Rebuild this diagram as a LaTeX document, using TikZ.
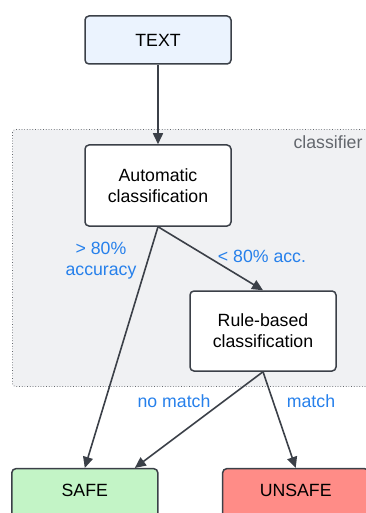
\documentclass[tikz,border=0pt]{standalone}
\usepackage{fontspec}
\setmainfont{Liberation Sans}
\usetikzlibrary{arrows.meta,calc}
\definecolor{edgegray}{HTML}{3B4048}
\definecolor{labelblue}{HTML}{2680EB}
\definecolor{groupfill}{HTML}{F0F1F3}
\definecolor{groupgray}{HTML}{63676D}
\definecolor{startfill}{HTML}{EBF3FE}
\definecolor{safefill}{HTML}{C3F4C6}
\definecolor{unsafefill}{HTML}{FF8C87}
\tikzset{
  box/.style={draw=edgegray, line width=1.5pt, rounded corners=4pt, fill=white,
    minimum width=146pt, inner sep=0pt, align=center, text=black,
    font=\fontsize{17.7}{21}\selectfont},
  flow/.style={draw=edgegray, line width=1.6pt, -{Triangle[length=11pt,width=10pt]}},
  tag/.style={text=labelblue, inner sep=0pt, align=center,
    font=\fontsize{17.7}{21}\selectfont},
}
\begin{document}
\begin{tikzpicture}[x=1pt,y=-1pt]
  \useasboundingbox (0,0) rectangle (366,513);
  \clip (0,0) rectangle (366,513);
  % classifier group
  \draw[groupgray, dotted, line width=0.7pt, fill=groupfill, rounded corners=3pt]
    (12.5,129.5) rectangle (385,386.5);
  \node[text=groupgray, inner sep=0pt, anchor=base, font=\fontsize{17.7}{21}\selectfont]
    (grp) at (328,148.3) {classifier};
  % nodes
  \node[box, fill=startfill, minimum height=48pt] (txt) at (158,40) {TEXT};
  \node[box, minimum height=81pt] (auto) at (158,185.5) {Automatic\\classification};
  \node[box, minimum height=80pt] (rule) at (263,331) {Rule-based\\classification};
  \node[box, fill=safefill, minimum height=60pt] (safe) at (84.8,498.7) {};
  \node[box, fill=unsafefill, minimum height=60pt] (unsafe) at (295.7,498.7) {};
  \node[inner sep=0pt, anchor=base, font=\fontsize{17.7}{21}\selectfont] (safet) at (84.8,496.7) {SAFE};
  \node[inner sep=0pt, anchor=base, font=\fontsize{17.7}{21}\selectfont] (unsafet) at (295.7,496.7) {UNSAFE};
  % connectors
  \draw[flow] (txt.south) -- (auto.north);
  \draw[flow] (auto.south) -- (rule.north);
  \draw[flow] (auto.south) -- (safe.north);
  \draw[flow] (rule.south) -- ([xshift=50pt]safe.north);
  \draw[flow] (rule.south) -- (unsafe.north);
  % edge labels
  \node[tag] (l1) at (101,261) {> 80\%\\accuracy};
  \node[tag, anchor=base] (l2) at (262,262.7) {< 80\% acc.};
  \node[tag, anchor=base] (l3) at (174,407.7) {no match};
  \node[tag, anchor=base] (l4) at (311,407.7) {match};
\end{tikzpicture}
\end{document}
